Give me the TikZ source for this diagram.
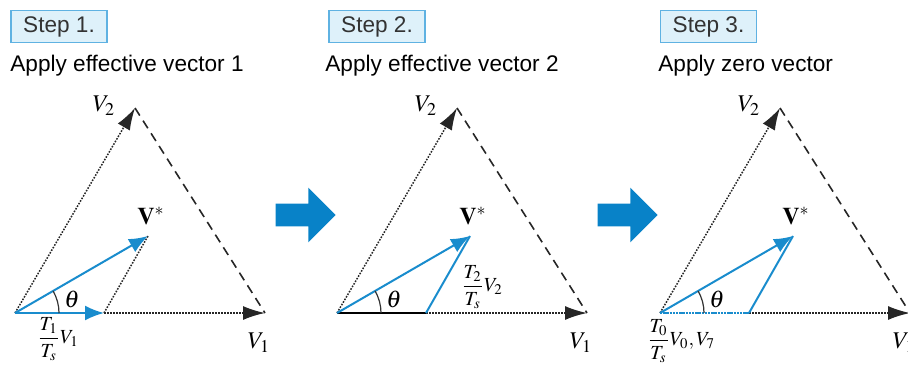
\documentclass[tikz,border=0pt]{standalone}
\usepackage{mathptmx}
\usepackage{fontspec}
\newfontfamily\headfont{Liberation Sans}
\usepackage{xcolor}
\usepackage{tikz}
\usetikzlibrary{arrows.meta,positioning,angles,shapes.arrows}
\definecolor{vecblue}{RGB}{25,140,205}
\definecolor{arrblue}{RGB}{8,130,200}
\definecolor{stepfill}{RGB}{222,241,250}
\definecolor{stepline}{RGB}{95,178,226}

\begin{document}
\begin{tikzpicture}[x=0.5pt, y=0.5pt,
  stepbox/.style={draw=stepline, fill=stepfill, line width=0.8pt,
                  minimum width=48pt, minimum height=16pt, inner sep=0pt,
                  font=\headfont\fontsize{11.3}{13}\selectfont, text=black!80},
  head/.style={anchor=base west, inner sep=0pt,
               font=\headfont\fontsize{11.3}{13}\selectfont},
  dotline/.style={black!85, line width=0.75pt, dash pattern=on 0.8pt off 0.7pt},
  dashline/.style={black!85, line width=0.8pt, dash pattern=on 4.5pt off 3pt},
  tip/.style={-{Latex[length=11pt,width=7pt]}},
  vec/.style={vecblue, line width=1pt},
  vtip/.style={-{Latex[length=9.5pt,width=7.5pt]}},
  lbl/.style={inner sep=0pt, font=\fontsize{12}{14}\selectfont},
  frac/.style={inner sep=0pt, font=\fontsize{10}{12}\selectfont},
  bigarr/.style={single arrow, fill=arrblue, minimum height=30pt,
                 inner xsep=0pt, inner ysep=5.5pt,
                 single arrow head extend=8pt, single arrow tip angle=90}]
\useasboundingbox (0,0) rectangle (908,365);
% --- step headers ---
\node[stepbox] (step1) at (59,338.5) {Step 1.};
\node[stepbox] (step2) at (377,338.5) {Step 2.};
\node[stepbox] (step3) at (708.5,338.5) {Step 3.};
\node[head] (title1) at (10,293) {Apply effective vector 1};
\node[head] (title2) at (325,293) {Apply effective vector 2};
\node[head] (title3) at (658,293) {Apply zero vector};
% --- step 1: first active vector ---
\begin{scope}
\coordinate (o1) at (15,52);
\coordinate (s1) at (104,52);
\coordinate (x1) at (265,52);
\coordinate (y1) at (135,257);
\coordinate (p1) at (148,129);
\draw[dotline, tip] (o1) -- (y1);
\draw[dashline] (y1) -- (x1);
\draw[dotline, tip] (s1) -- (x1);
\draw[dotline] (s1) -- (p1);
\draw[vec, vtip] (o1) -- (s1);
\draw[vec, vtip] (o1) -- (p1);
\pic[draw=black!80, line width=0.6pt, angle radius=22pt] {angle=s1--o1--p1};
\node[lbl] (lv2a) at (104,259) {$V_2$};
\node[lbl] (lv1a) at (259,22) {$V_1$};
\node[lbl] (lvsa) at (151,149) {$\mathbf{V}^{*}$};
\node[lbl] (lth1) at (72,66) {$\theta$};
\node[frac] (lfr1) at (58,26) {$\displaystyle\frac{T_1}{T_s}V_1$};
\end{scope}
\node[bigarr] (go12) at (300,150) {};
% --- step 2: second active vector ---
\begin{scope}[shift={(322,0)}]
\coordinate (o2) at (15,52);
\coordinate (s2) at (104,52);
\coordinate (x2) at (265,52);
\coordinate (y2) at (135,257);
\coordinate (p2) at (148,129);
\draw[dotline, tip] (o2) -- (y2);
\draw[dashline] (y2) -- (x2);
\draw[dotline, tip] (s2) -- (x2);
\draw[black, line width=1.3pt] (o2) -- (s2);
\draw[vec] (s2) -- (p2);
\draw[vec, vtip] (o2) -- (p2);
\pic[draw=black!80, line width=0.6pt, angle radius=22pt] {angle=s2--o2--p2};
\node[lbl] (lv2b) at (104,259) {$V_2$};
\node[lbl] (lv1b) at (259,22) {$V_1$};
\node[lbl] (lvsb) at (151,149) {$\mathbf{V}^{*}$};
\node[lbl] (lth2) at (72,66) {$\theta$};
\node[frac] (lfr2) at (160,78) {$\displaystyle\frac{T_2}{T_s}V_2$};
\end{scope}
\node[bigarr] (go23) at (622,150) {};
% --- step 3: zero vector ---
\begin{scope}[shift={(645,0)}]
\coordinate (o3) at (15,52);
\coordinate (s3) at (104,52);
\coordinate (x3) at (265,52);
\coordinate (y3) at (135,257);
\coordinate (p3) at (148,129);
\draw[dotline, tip] (o3) -- (y3);
\draw[dashline] (y3) -- (x3);
\draw[dotline, tip] (s3) -- (x3);
\draw[vecblue, line width=1.3pt, dash pattern=on 1.2pt off 0.4pt] (o3) -- (s3);
\draw[vec] (s3) -- (p3);
\draw[vec, vtip] (o3) -- (p3);
\pic[draw=black!80, line width=0.6pt, angle radius=22pt] {angle=s3--o3--p3};
\node[lbl] (lv2c) at (104,259) {$V_2$};
\node[lbl] (lv1c) at (259,22) {$V_1$};
\node[lbl] (lvsc) at (151,149) {$\mathbf{V}^{*}$};
\node[lbl] (lth3) at (72,66) {$\theta$};
\node[frac] (lfr3) at (36,24) {$\displaystyle\frac{T_0}{T_s}V_0,V_7$};
\end{scope}
\end{tikzpicture}
\end{document}
